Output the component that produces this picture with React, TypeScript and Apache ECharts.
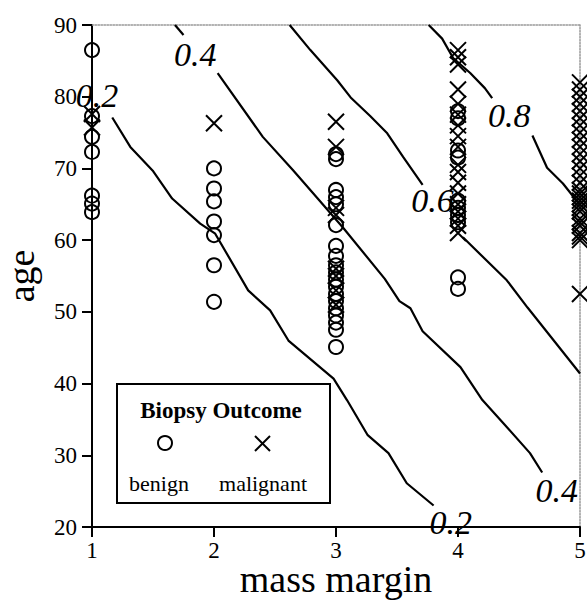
import React, { useEffect, useRef } from "react";
import * as echarts from "echarts";

// ---- data ----
const xTicks = [1, 2, 3, 4, 5];
const yTicks = [20, 30, 40, 50, 60, 70, 80, 90];

const benignMargin1 = [86.5, 77.3, 74.4, 72.3, 66.2, 65.1, 63.9];
const malignantMargin1 = [77.6, 75.7];
const benignMargin2 = [70.0, 67.2, 65.4, 62.6, 60.7, 56.5, 51.4];
const malignantMargin2 = [76.3];
const benignMargin3 = [72.0, 71.3, 67.0, 66.0, 65.0, 62.1, 59.2, 57.8, 56.5, 55.5, 54.5, 53.5, 52.5, 51.5, 50.5, 49.5, 48.5, 47.5, 45.1];
const malignantMargin3 = [76.5, 73.0, 64.5, 63.5, 56.0, 55.0, 53.0, 51.0];
const benignMargin4 = [78.0, 77.0, 72.5, 71.5, 65.5, 64.5, 63.5, 62.5, 54.8, 53.2];
const malignantMargin4 = [86.5, 85.5, 84.5, 81.0, 79.0, 77.5, 76.0, 74.5, 73.0, 70.5, 69.5, 68.0, 66.5, 65.0, 64.0, 63.0, 62.0, 61.0];
const benignMargin5: number[] = [];
const malignantMargin5 = [82.0, 81.0, 80.0, 79.0, 78.0, 77.0, 76.0, 75.0, 74.0, 73.0, 72.0, 71.0, 70.0, 69.0, 68.0, 67.0, 66.5, 66.0, 65.5, 65.0, 64.5, 64.0, 63.0, 62.5, 62.0, 61.0, 60.5, 60.0, 52.5];

const benignByMargin = [benignMargin1, benignMargin2, benignMargin3, benignMargin4, benignMargin5];
const malignantByMargin = [malignantMargin1, malignantMargin2, malignantMargin3, malignantMargin4, malignantMargin5];

// contour line segments [margin, age]
const contour02 = [
  [1.166, 77.1], [1.314, 73.0], [1.502, 69.6], [1.657, 65.8], [1.887, 62.3], [2.01, 60.9],
  [2.28, 53.0], [2.46, 50.2], [2.61, 46.0], [2.98, 40.7], [3.09, 37.7], [3.26, 32.8],
  [3.43, 30.3], [3.58, 26.1], [3.80, 23.0],
];
const contour04a = [[1.68, 90.0], [1.75, 88.6]];
const contour04b = [
  [2.03, 83.3], [2.40, 74.4], [2.65, 69.7], [2.85, 65.8], [3.06, 61.7], [3.40, 54.6],
  [3.52, 51.5], [3.61, 50.5], [3.71, 47.3], [4.02, 42.3], [4.20, 37.7], [4.37, 34.5],
  [4.59, 30.3], [4.69, 27.6],
];
const contour06a = [
  [2.62, 90.0], [2.79, 86.5], [3.01, 82.3], [3.12, 79.9], [3.28, 77.3], [3.42, 74.9],
  [3.55, 71.6], [3.71, 67.7],
];
const contour06b = [[4.04, 60.4], [4.40, 54.4], [4.57, 50.6], [5.0, 41.4]];
const contour08a = [[3.76, 90.0], [3.87, 88.1], [3.96, 85.4], [4.10, 83.3], [4.22, 81.2], [4.28, 79.8]];
const contour08b = [[4.61, 74.6], [4.73, 70.1], [4.86, 67.9], [5.0, 64.9]];
const contourSegments = [contour02, contour04a, contour04b, contour06a, contour06b, contour08a, contour08b];

// contour labels [margin, age, text]
const contourLabels: [number, number, string][] = [
  [1.04, 80.2, "0.2"],
  [3.94, 20.6, "0.2"],
  [1.846, 85.9, "0.4"],
  [4.81, 25.1, "0.4"],
  [3.79, 65.5, "0.6"],
  [4.42, 77.4, "0.8"],
];

const SERIF = "'Liberation Serif', 'DejaVu Serif', serif";

export default function App() {
  const ref = useRef<HTMLDivElement>(null);
  useEffect(() => {
    if (!ref.current) return;
    const chart = echarts.init(ref.current, null, { renderer: "svg" });

    const benignData: number[][] = [];
    const malignantData: number[][] = [];
    benignByMargin.forEach((arr, i) => arr.forEach((a) => benignData.push([xTicks[i], a])));
    malignantByMargin.forEach((arr, i) => arr.forEach((a) => malignantData.push([xTicks[i], a])));

    const xPath = "path://M0,0L10,10M10,0L0,10";

    const series: any[] = contourSegments.map((seg) => ({
      type: "line",
      data: seg,
      showSymbol: false,
      symbol: "none",
      lineStyle: { color: "#000", width: 2.2 },
      silent: true,
      z: 2,
    }));
    series.push({
      name: "benign",
      type: "scatter",
      data: benignData,
      symbol: "circle",
      symbolSize: 14,
      itemStyle: { color: "rgba(0,0,0,0)", borderColor: "#000", borderWidth: 2, opacity: 1 },
      z: 3,
    });
    series.push({
      name: "malignant",
      type: "scatter",
      data: malignantData,
      symbol: xPath,
      symbolSize: 16,
      clip: false,
      itemStyle: { color: "rgba(0,0,0,0)", borderColor: "#000", borderWidth: 2, opacity: 1 },
      z: 3,
    });
    series.push({
      type: "scatter",
      data: contourLabels,
      symbolSize: 1,
      itemStyle: { color: "rgba(0,0,0,0)" },
      clip: false,
      label: {
        show: true,
        position: "inside",
        formatter: (p: any) => p.data[2],
        fontFamily: SERIF,
        fontStyle: "italic",
        fontSize: 34,
        color: "#000",
        opacity: 1,
        textBorderWidth: 0,
      },
      z: 4,
    });

    const hiddenAxisParts = {
      axisTick: { show: false },
      axisLabel: { show: false },
      splitLine: { show: false },
    };

    chart.setOption({
      animation: false,
      backgroundColor: "#fff",
      grid: {
        left: 92,
        right: 7,
        top: 25,
        bottom: 75,
        show: false,
        containLabel: false,
        outerBoundsMode: "none",
      },
      xAxis: [
        {
          type: "value",
          min: 1,
          max: 5,
          interval: 1,
          name: "mass margin",
          nameLocation: "middle",
          nameGap: 33,
          nameMoveOverlap: false,
          nameTextStyle: { fontFamily: SERIF, fontSize: 38, color: "#000" },
          axisLine: { show: true, onZero: false, lineStyle: { color: "#000", width: 2 } },
          axisTick: { show: true, length: 10, lineStyle: { color: "#000", width: 2 } },
          axisLabel: { fontFamily: SERIF, fontSize: 23, color: "#000", margin: 12 },
          splitLine: { show: false },
        },
        {
          type: "value",
          min: 1,
          max: 5,
          interval: 1,
          position: "top",
          axisLine: { show: true, onZero: false, lineStyle: { color: "#999", width: 1.5, type: "dotted" } },
          ...hiddenAxisParts,
        },
      ],
      yAxis: [
        {
          type: "value",
          min: 20,
          max: 90,
          interval: 10,
          name: "age",
          nameLocation: "middle",
          nameGap: 52,
          nameMoveOverlap: false,
          nameRotate: 90,
          nameTextStyle: { fontFamily: SERIF, fontSize: 38, color: "#000" },
          axisLine: { show: true, onZero: false, lineStyle: { color: "#000", width: 2 } },
          axisTick: { show: true, length: 10, lineStyle: { color: "#000", width: 2 } },
          axisLabel: {
            fontFamily: SERIF,
            fontSize: 23,
            color: "#000",
            margin: 15,
            formatter: (v: number) => (yTicks.includes(v) ? String(v) : ""),
          },
          splitLine: { show: false },
        },
        {
          type: "value",
          min: 20,
          max: 90,
          interval: 10,
          position: "right",
          axisLine: { show: true, onZero: false, lineStyle: { color: "#999", width: 1.5, type: "dotted" } },
          ...hiddenAxisParts,
        },
      ],
      series,
      graphic: [
        {
          type: "rect",
          shape: { x: 117, y: 384, width: 213, height: 119 },
          style: { fill: "#fff", stroke: "#000", lineWidth: 2 },
          z: 10,
        },
        {
          type: "text",
          x: 221,
          y: 410,
          style: {
            text: "Biopsy Outcome",
            fontFamily: SERIF,
            fontWeight: "bold",
            fontSize: 23,
            fill: "#000",
            textAlign: "center",
            textVerticalAlign: "middle",
          },
          z: 11,
        },
        {
          type: "circle",
          shape: { cx: 165, cy: 443, r: 7 },
          style: { fill: "none", stroke: "#000", lineWidth: 2 },
          z: 11,
        },
        {
          type: "line",
          shape: { x1: 255, y1: 436, x2: 270, y2: 451 },
          style: { stroke: "#000", lineWidth: 2 },
          z: 11,
        },
        {
          type: "line",
          shape: { x1: 270, y1: 436, x2: 255, y2: 451 },
          style: { stroke: "#000", lineWidth: 2 },
          z: 11,
        },
        {
          type: "text",
          x: 159,
          y: 483,
          style: {
            text: "benign",
            fontFamily: SERIF,
            fontSize: 22,
            fill: "#000",
            textAlign: "center",
            textVerticalAlign: "middle",
          },
          z: 11,
        },
        {
          type: "text",
          x: 263,
          y: 483,
          style: {
            text: "malignant",
            fontFamily: SERIF,
            fontSize: 22,
            fill: "#000",
            textAlign: "center",
            textVerticalAlign: "middle",
          },
          z: 11,
        },
      ],
    });
    return () => chart.dispose();
  }, []);
  return (
    <div
      ref={ref}
      style={{ position: "fixed", left: 0, top: 0, width: 587, height: 602, background: "#fff" }}
    />
  );
}
